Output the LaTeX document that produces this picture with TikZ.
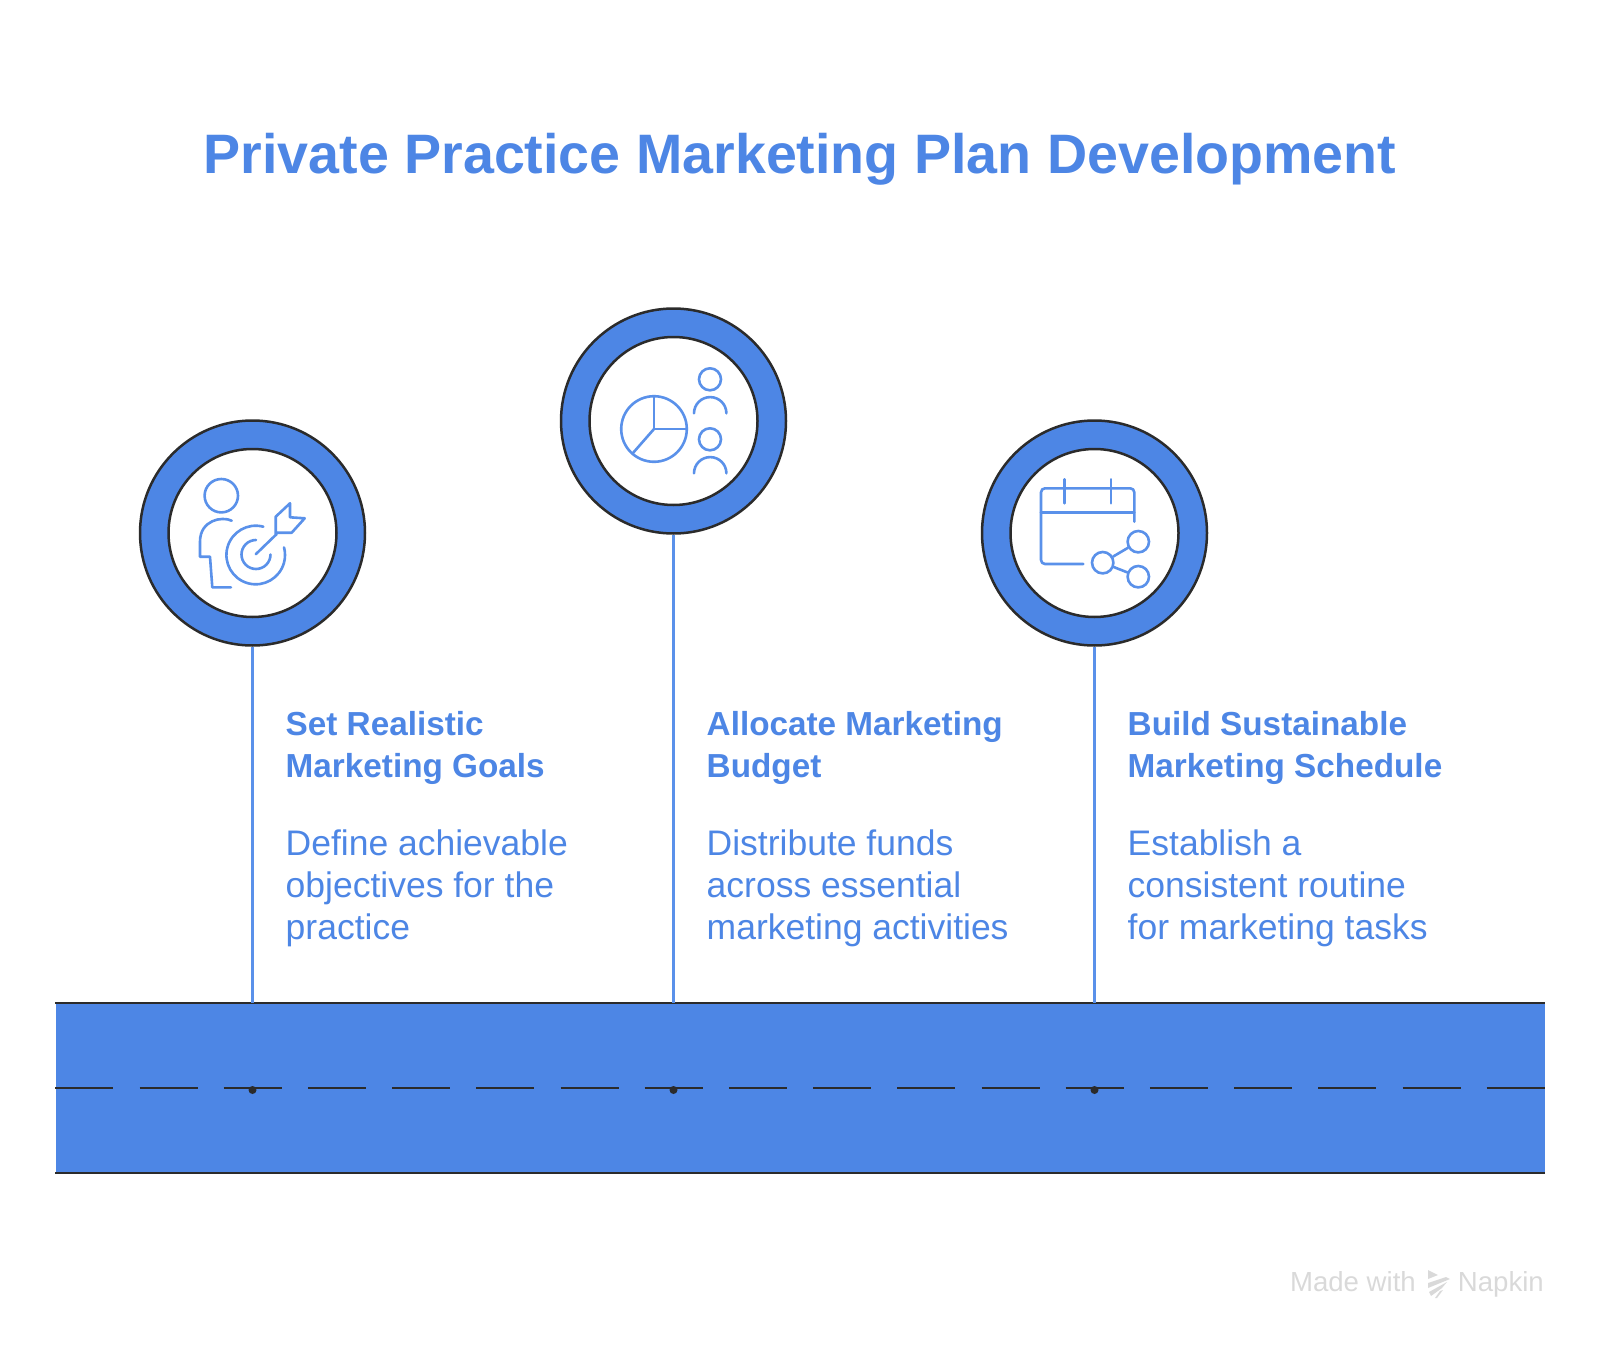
\documentclass[tikz,border=0pt]{standalone}
\usepackage{fontspec}
\usepackage{xcolor}
\setmainfont{Liberation Sans}
\definecolor{roadblue}{HTML}{4D86E5}
\definecolor{inkblue}{HTML}{5A91EA}
\definecolor{darkline}{HTML}{2B2B2B}
\definecolor{markgray}{HTML}{D9D9D9}
\usetikzlibrary{positioning}

\begin{document}
\begin{tikzpicture}[x=1pt, y=1pt]
    % Define styles
    \tikzstyle{ring}=[circle, draw=darkline, fill=roadblue, line width=2.5pt, inner sep=0pt, minimum size=225pt]
    \tikzstyle{hole}=[circle, draw=darkline, fill=white, line width=2.5pt, inner sep=0pt, minimum size=168pt]
    \tikzstyle{icon}=[draw=inkblue, line width=2.6pt, line cap=round, line join=round]
    \tikzstyle{sharenode}=[circle, draw=inkblue, line width=2.6pt, inner sep=0pt, minimum size=21.4pt]
    \tikzstyle{stem}=[draw=inkblue, line width=2.2pt]
    \tikzstyle{roadline}=[draw=darkline, line width=2.2pt]
    \tikzstyle{headtext}=[anchor=base west, inner sep=0pt, align=left, text=roadblue, font=\fontsize{33.3}{42}\selectfont\bfseries]
    \tikzstyle{bodytext}=[anchor=base west, inner sep=0pt, align=left, text=roadblue, font=\fontsize{35.5}{42}\selectfont]
    \useasboundingbox (0,0) rectangle (1600,-1348);

    % Draw the title
    \node[inner sep=0pt, text=roadblue, font=\fontsize{55.6}{60}\selectfont\bfseries] (title) at (800,-159) {Private Practice Marketing Plan Development};

    % Draw the road
    \node[fill=roadblue, inner sep=0pt, minimum width=1489pt, minimum height=169pt] (road) at (800,-1088) {};
    \draw[roadline] (road.north west) -- (road.north east);
    \draw[roadline] (road.south west) -- (road.south east);
    \draw[roadline, line width=2.7pt, dash pattern=on 58pt off 26.2pt] (road.west) -- (road.east);

    % Draw the circles, stems and dots
    \foreach \name/\x/\y in {a/252.5/533, b/673.5/421, c/1094.5/533} {
        \node[ring] (ring\name) at (\x,-\y) {};
        \node[hole] (hole\name) at (\x,-\y) {};
        \draw[stem] (ring\name.south) -- (ring\name.south |- road.north);
        \node[circle, fill=darkline, inner sep=0pt, minimum size=8pt] (dot\name) at (\x,-1090) {};
    }

    % Draw the labels
    \node[headtext] (heada) at (285.5,-777.5) {Set Realistic\\Marketing Goals};
    \node[bodytext, below=162pt of heada.base west, anchor=base west] (bodya) {Define achievable\\objectives for the\\practice};
    \node[headtext] (headb) at (706.5,-777.5) {Allocate Marketing\\Budget};
    \node[bodytext, below=162pt of headb.base west, anchor=base west] (bodyb) {Distribute funds\\across essential\\marketing activities};
    \node[headtext] (headc) at (1127.5,-777.5) {Build Sustainable\\Marketing Schedule};
    \node[bodytext, below=162pt of headc.base west, anchor=base west] (bodyc) {Establish a\\consistent routine\\for marketing tasks};

    % Person with target
    \draw[icon] (221.3,-495.7) circle (16.7);
    \draw[icon] (231.7,-520.7) .. controls (222,-516) and (200,-520) .. (200,-541.7) -- (200,-556.7) -- (210,-556.7) -- (212.3,-587.3) -- (231,-587.3);
    \draw[icon] (263.3,-526.7) arc[start angle=75, end angle=375, radius=29.3];
    \draw[icon] (256,-540) arc[start angle=90, end angle=360, radius=14.5];
    \draw[icon] (255.7,-554.3) -- (276.7,-534);
    \draw[icon] (275.7,-534) -- (275.7,-516.7) -- (290,-503.3) -- (290,-517.3) -- (304.7,-518.3) -- (291.7,-532.7) -- (275.7,-532.7);

    % Pie and people
    \draw[icon] (654,-429) circle (32.8);
    \draw[icon] (654,-396.2) -- (654,-429) -- (686.8,-429);
    \draw[icon] (654,-429) -- (632.7,-453.3);
    \foreach \y in {379.3, 439.3} {
        \draw[icon] (710,-\y) circle (11);
        \draw[icon] (694,-\y-34) arc[start angle=180, end angle=0, radius=16.2];
    }

    % Calendar with share nodes
    \draw[icon, rounded corners=4pt] (1134.3,-521.7) -- (1134.3,-488.3) -- (1041,-488.3) -- (1041,-564) -- (1083.3,-564);
    \draw[icon] (1041,-512.3) -- (1134.3,-512.3);
    \draw[icon] (1064.3,-479.3) -- (1064.3,-503.3);
    \draw[icon] (1111,-479.3) -- (1111,-503.3);
    \node[sharenode] (sharea) at (1102.7,-562.7) {};
    \node[sharenode] (shareb) at (1138.3,-541.7) {};
    \node[sharenode] (sharec) at (1138.3,-576.7) {};
    \draw[icon] (sharea) -- (shareb);
    \draw[icon] (sharea) -- (sharec);

    % Draw the watermark
    \node[anchor=base east, inner sep=0pt, text=markgray, font=\fontsize{27.6}{30}\selectfont] (napkin) at (1544,-1291) {Napkin};
    \node[anchor=base east, inner sep=0pt, text=markgray, font=\fontsize{27.6}{30}\selectfont] (madewith) at (1416,-1291) {Made with};
    \fill[markgray] (1428,-1270) -- (1438,-1275) -- (1428,-1279) -- cycle;
    \fill[markgray] (1428,-1283) -- (1446,-1277) -- (1450,-1279) -- (1428,-1288) -- cycle;
    \fill[markgray] (1429,-1292) -- (1447,-1282) -- (1442,-1288) -- (1431,-1296) -- cycle;
    \fill[markgray] (1435,-1298) -- (1440,-1291) -- (1443,-1290) -- (1437,-1298) -- cycle;
\end{tikzpicture}
\end{document}
